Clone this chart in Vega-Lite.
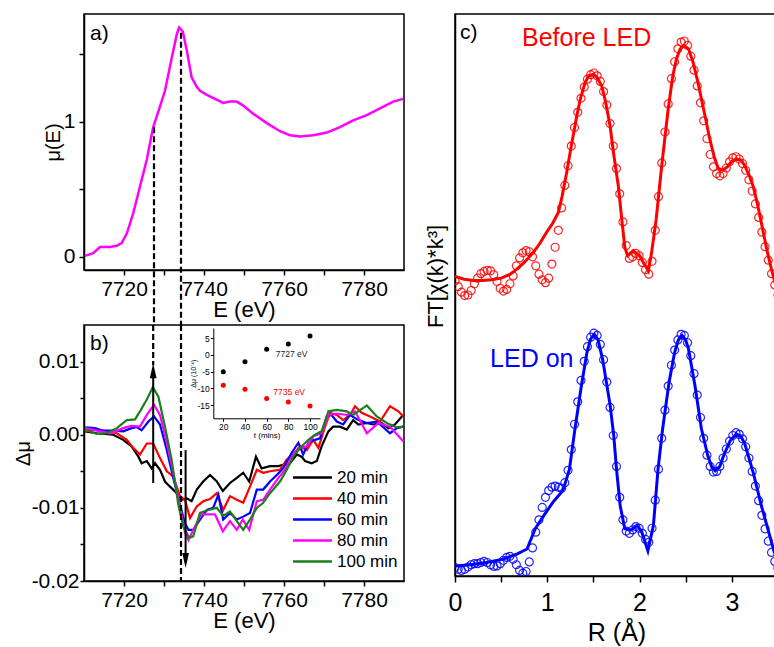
{
 "$schema": "https://vega.github.io/schema/vega-lite/v6.json",
 "background": "white",
 "padding": {"left": 12, "top": 13, "right": 0, "bottom": 0},
 "config": {
  "font": "Liberation Sans",
  "view": {"stroke": "#000", "strokeWidth": 1.5},
  "axis": {"grid": false, "domainColor": "#000", "domainWidth": 1.5, "tickColor": "#000", "tickWidth": 1.5, "labelColor": "#000", "titleColor": "#000", "titleFontWeight": "normal", "labelFont": "Liberation Sans", "titleFont": "Liberation Sans", "labelFlush": false},
  "legend": {"labelFont": "Liberation Sans"}
 },
 "datasets": {
  "xanes": [
   {"E":7710.25,"mu":0.005},{"E":7712.3,"mu":0.025},{"E":7714.0,"mu":0.07},{"E":7716.5,"mu":0.07},{"E":7718.2,"mu":0.08},{"E":7719.4,"mu":0.10},{"E":7720.7,"mu":0.17},{"E":7722.3,"mu":0.32},{"E":7724.0,"mu":0.52},{"E":7725.7,"mu":0.72},{"E":7727.3,"mu":0.96},{"E":7728.2,"mu":1.04},{"E":7730.25,"mu":1.23},{"E":7731.9,"mu":1.47},{"E":7733.2,"mu":1.65},{"E":7733.8,"mu":1.70},{"E":7734.7,"mu":1.67},{"E":7735.7,"mu":1.53},{"E":7736.9,"mu":1.33},{"E":7738.2,"mu":1.26},{"E":7739.0,"mu":1.23},{"E":7740.7,"mu":1.20},{"E":7742.75,"mu":1.17},{"E":7744.8,"mu":1.14},{"E":7746.5,"mu":1.15},{"E":7748.2,"mu":1.15},{"E":7749.8,"mu":1.12},{"E":7752.3,"mu":1.06},{"E":7755.7,"mu":0.99},{"E":7759.0,"mu":0.93},{"E":7761.5,"mu":0.90},{"E":7764.0,"mu":0.89},{"E":7767.3,"mu":0.90},{"E":7770.7,"mu":0.92},{"E":7774.0,"mu":0.96},{"E":7777.3,"mu":1.01},{"E":7780.7,"mu":1.05},{"E":7784.0,"mu":1.10},{"E":7787.3,"mu":1.15},{"E":7789.8,"mu":1.17}
  ],
  "dmu": [
   {"t":"20 min","E":7710.25,"d":0.00046},{"t":"20 min","E":7713.2,"d":0.0002},{"t":"20 min","E":7717.3,"d":0.0},{"t":"20 min","E":7719.8,"d":-0.0007},{"t":"20 min","E":7721.9,"d":-0.0016},{"t":"20 min","E":7723.6,"d":-0.003},{"t":"20 min","E":7724.4,"d":-0.0039},{"t":"20 min","E":7725.7,"d":-0.0036},{"t":"20 min","E":7726.9,"d":-0.0046},{"t":"20 min","E":7727.75,"d":-0.0039},{"t":"20 min","E":7729.0,"d":-0.0048},{"t":"20 min","E":7730.25,"d":-0.0064},{"t":"20 min","E":7731.5,"d":-0.0071},{"t":"20 min","E":7733.2,"d":-0.008},{"t":"20 min","E":7734.4,"d":-0.0089},{"t":"20 min","E":7735.7,"d":-0.0087},{"t":"20 min","E":7736.9,"d":-0.0091},{"t":"20 min","E":7738.2,"d":-0.0075},{"t":"20 min","E":7739.8,"d":-0.0064},{"t":"20 min","E":7741.5,"d":-0.0055},{"t":"20 min","E":7743.2,"d":-0.0064},{"t":"20 min","E":7744.7,"d":-0.0077},{"t":"20 min","E":7746.5,"d":-0.0066},{"t":"20 min","E":7748.2,"d":-0.0059},{"t":"20 min","E":7749.8,"d":-0.0052},{"t":"20 min","E":7751.3,"d":-0.0064},{"t":"20 min","E":7753.0,"d":-0.003},{"t":"20 min","E":7754.4,"d":-0.0046},{"t":"20 min","E":7756.5,"d":-0.0043},{"t":"20 min","E":7758.6,"d":-0.0043},{"t":"20 min","E":7759.8,"d":-0.0041},{"t":"20 min","E":7761.5,"d":-0.0039},{"t":"20 min","E":7763.2,"d":-0.0027},{"t":"20 min","E":7764.4,"d":-0.003},{"t":"20 min","E":7765.25,"d":-0.0036},{"t":"20 min","E":7766.9,"d":-0.0039},{"t":"20 min","E":7768.2,"d":-0.0036},{"t":"20 min","E":7769.4,"d":-0.0016},{"t":"20 min","E":7771.1,"d":0.00046},{"t":"20 min","E":7772.3,"d":0.0011},{"t":"20 min","E":7774.0,"d":0.0011},{"t":"20 min","E":7775.7,"d":0.0007},{"t":"20 min","E":7777.3,"d":0.002},{"t":"20 min","E":7778.6,"d":0.0014},{"t":"20 min","E":7780.7,"d":0.0016},{"t":"20 min","E":7782.3,"d":0.0014},{"t":"20 min","E":7784.4,"d":0.0016},{"t":"20 min","E":7786.1,"d":0.0009},{"t":"20 min","E":7787.75,"d":0.0014},{"t":"20 min","E":7789.8,"d":0.0027},
   {"t":"40 min","E":7710.25,"d":0.00046},{"t":"40 min","E":7713.2,"d":0.0007},{"t":"40 min","E":7715.7,"d":0.00046},{"t":"40 min","E":7718.2,"d":0.0002},{"t":"40 min","E":7720.7,"d":-0.0007},{"t":"40 min","E":7722.3,"d":-0.0018},{"t":"40 min","E":7724.0,"d":-0.0027},{"t":"40 min","E":7725.7,"d":-0.0012},{"t":"40 min","E":7727.3,"d":-0.0012},{"t":"40 min","E":7729.0,"d":-0.0032},{"t":"40 min","E":7730.7,"d":-0.005},{"t":"40 min","E":7732.3,"d":-0.0057},{"t":"40 min","E":7734.0,"d":-0.0084},{"t":"40 min","E":7735.25,"d":-0.0089},{"t":"40 min","E":7736.5,"d":-0.0114},{"t":"40 min","E":7738.2,"d":-0.0098},{"t":"40 min","E":7739.8,"d":-0.0091},{"t":"40 min","E":7741.5,"d":-0.0088},{"t":"40 min","E":7743.2,"d":-0.008},{"t":"40 min","E":7744.8,"d":-0.0103},{"t":"40 min","E":7746.5,"d":-0.0084},{"t":"40 min","E":7748.2,"d":-0.0089},{"t":"40 min","E":7749.8,"d":-0.0093},{"t":"40 min","E":7751.5,"d":-0.0071},{"t":"40 min","E":7753.2,"d":-0.0048},{"t":"40 min","E":7754.8,"d":-0.0052},{"t":"40 min","E":7756.5,"d":-0.005},{"t":"40 min","E":7759.0,"d":-0.0048},{"t":"40 min","E":7760.7,"d":-0.0034},{"t":"40 min","E":7762.3,"d":-0.0027},{"t":"40 min","E":7764.0,"d":-0.0016},{"t":"40 min","E":7765.7,"d":-0.0021},{"t":"40 min","E":7767.3,"d":-0.0007},{"t":"40 min","E":7768.6,"d":-0.0018},{"t":"40 min","E":7770.25,"d":0.0011},{"t":"40 min","E":7771.5,"d":0.003},{"t":"40 min","E":7773.2,"d":0.0027},{"t":"40 min","E":7774.8,"d":0.002},{"t":"40 min","E":7776.5,"d":0.0027},{"t":"40 min","E":7777.75,"d":0.0039},{"t":"40 min","E":7779.4,"d":0.003},{"t":"40 min","E":7781.5,"d":0.0025},{"t":"40 min","E":7784.0,"d":0.0018},{"t":"40 min","E":7786.5,"d":0.0039},{"t":"40 min","E":7788.6,"d":0.0032},{"t":"40 min","E":7789.8,"d":0.0025},
   {"t":"60 min","E":7710.25,"d":0.001},{"t":"60 min","E":7712.75,"d":0.0009},{"t":"60 min","E":7714.8,"d":0.00055},{"t":"60 min","E":7717.3,"d":0.00055},{"t":"60 min","E":7719.8,"d":0.00046},{"t":"60 min","E":7721.9,"d":0.0009},{"t":"60 min","E":7723.2,"d":0.00105},{"t":"60 min","E":7724.4,"d":0.0006},{"t":"60 min","E":7726.1,"d":0.0018},{"t":"60 min","E":7727.5,"d":0.0025},{"t":"60 min","E":7729.0,"d":0.0014},{"t":"60 min","E":7730.7,"d":-0.0021},{"t":"60 min","E":7732.3,"d":-0.0059},{"t":"60 min","E":7734.0,"d":-0.0096},{"t":"60 min","E":7735.25,"d":-0.0121},{"t":"60 min","E":7736.1,"d":-0.013},{"t":"60 min","E":7737.3,"d":-0.013},{"t":"60 min","E":7739.0,"d":-0.0116},{"t":"60 min","E":7740.7,"d":-0.0103},{"t":"60 min","E":7742.3,"d":-0.01},{"t":"60 min","E":7743.6,"d":-0.0082},{"t":"60 min","E":7744.8,"d":-0.0116},{"t":"60 min","E":7746.5,"d":-0.0107},{"t":"60 min","E":7748.2,"d":-0.0116},{"t":"60 min","E":7749.8,"d":-0.0112},{"t":"60 min","E":7751.5,"d":-0.0107},{"t":"60 min","E":7753.2,"d":-0.0075},{"t":"60 min","E":7754.8,"d":-0.0075},{"t":"60 min","E":7756.5,"d":-0.0064},{"t":"60 min","E":7758.2,"d":-0.0055},{"t":"60 min","E":7759.8,"d":-0.0046},{"t":"60 min","E":7761.9,"d":-0.0025},{"t":"60 min","E":7763.6,"d":-0.0011},{"t":"60 min","E":7764.8,"d":-0.0027},{"t":"60 min","E":7766.1,"d":-0.0011},{"t":"60 min","E":7767.75,"d":-0.0007},{"t":"60 min","E":7769.0,"d":-0.0005},{"t":"60 min","E":7770.7,"d":0.0025},{"t":"60 min","E":7771.9,"d":0.0027},{"t":"60 min","E":7773.2,"d":0.0018},{"t":"60 min","E":7774.8,"d":0.0014},{"t":"60 min","E":7776.5,"d":0.0027},{"t":"60 min","E":7778.6,"d":0.002},{"t":"60 min","E":7780.7,"d":0.0016},{"t":"60 min","E":7783.2,"d":0.0018},{"t":"60 min","E":7786.5,"d":0.0002},{"t":"60 min","E":7788.2,"d":0.0009},{"t":"60 min","E":7789.8,"d":0.0011},
   {"t":"80 min","E":7710.25,"d":0.0009},{"t":"80 min","E":7713.2,"d":0.00055},{"t":"80 min","E":7716.5,"d":0.0002},{"t":"80 min","E":7719.8,"d":0.0009},{"t":"80 min","E":7721.9,"d":0.0012},{"t":"80 min","E":7724.0,"d":0.0011},{"t":"80 min","E":7725.7,"d":0.0027},{"t":"80 min","E":7727.5,"d":0.0041},{"t":"80 min","E":7729.0,"d":0.0027},{"t":"80 min","E":7730.7,"d":-0.0011},{"t":"80 min","E":7732.3,"d":-0.0052},{"t":"80 min","E":7734.0,"d":-0.0098},{"t":"80 min","E":7735.25,"d":-0.0134},{"t":"80 min","E":7736.1,"d":-0.0144},{"t":"80 min","E":7737.75,"d":-0.0125},{"t":"80 min","E":7739.4,"d":-0.0109},{"t":"80 min","E":7741.1,"d":-0.0109},{"t":"80 min","E":7742.75,"d":-0.0109},{"t":"80 min","E":7744.7,"d":-0.0132},{"t":"80 min","E":7746.5,"d":-0.0118},{"t":"80 min","E":7748.2,"d":-0.013},{"t":"80 min","E":7749.7,"d":-0.0116},{"t":"80 min","E":7751.3,"d":-0.013},{"t":"80 min","E":7753.2,"d":-0.0091},{"t":"80 min","E":7754.8,"d":-0.0089},{"t":"80 min","E":7756.5,"d":-0.0075},{"t":"80 min","E":7758.6,"d":-0.0059},{"t":"80 min","E":7760.25,"d":-0.0048},{"t":"80 min","E":7762.3,"d":-0.0027},{"t":"80 min","E":7764.0,"d":-0.0018},{"t":"80 min","E":7765.7,"d":-0.0016},{"t":"80 min","E":7767.3,"d":-0.0002},{"t":"80 min","E":7769.4,"d":0.0002},{"t":"80 min","E":7771.1,"d":0.0027},{"t":"80 min","E":7773.2,"d":0.0029},{"t":"80 min","E":7775.7,"d":0.0027},{"t":"80 min","E":7777.75,"d":0.0032},{"t":"80 min","E":7780.7,"d":0.0002},{"t":"80 min","E":7783.6,"d":0.0016},{"t":"80 min","E":7786.5,"d":0.0011},{"t":"80 min","E":7789.8,"d":-0.0009},
   {"t":"100 min","E":7710.25,"d":0.0007},{"t":"100 min","E":7713.2,"d":0.0001},{"t":"100 min","E":7715.7,"d":0.0002},{"t":"100 min","E":7718.2,"d":0.0009},{"t":"100 min","E":7720.7,"d":0.002},{"t":"100 min","E":7722.75,"d":0.0021},{"t":"100 min","E":7724.0,"d":0.0032},{"t":"100 min","E":7725.7,"d":0.0048},{"t":"100 min","E":7727.2,"d":0.0065},{"t":"100 min","E":7728.6,"d":0.0052},{"t":"100 min","E":7730.25,"d":0.0011},{"t":"100 min","E":7731.9,"d":-0.0034},{"t":"100 min","E":7733.6,"d":-0.0096},{"t":"100 min","E":7734.8,"d":-0.0125},{"t":"100 min","E":7736.3,"d":-0.0141},{"t":"100 min","E":7737.3,"d":-0.0139},{"t":"100 min","E":7739.0,"d":-0.0107},{"t":"100 min","E":7741.1,"d":-0.0103},{"t":"100 min","E":7743.2,"d":-0.01},{"t":"100 min","E":7744.8,"d":-0.0111},{"t":"100 min","E":7746.5,"d":-0.0105},{"t":"100 min","E":7748.2,"d":-0.0118},{"t":"100 min","E":7749.8,"d":-0.013},{"t":"100 min","E":7751.5,"d":-0.0116},{"t":"100 min","E":7753.2,"d":-0.01},{"t":"100 min","E":7754.8,"d":-0.0093},{"t":"100 min","E":7756.5,"d":-0.008},{"t":"100 min","E":7759.0,"d":-0.0064},{"t":"100 min","E":7760.7,"d":-0.0048},{"t":"100 min","E":7762.3,"d":-0.003},{"t":"100 min","E":7764.4,"d":-0.0016},{"t":"100 min","E":7766.1,"d":-0.0007},{"t":"100 min","E":7767.75,"d":0.0},{"t":"100 min","E":7769.4,"d":0.00046},{"t":"100 min","E":7771.1,"d":0.0032},{"t":"100 min","E":7773.2,"d":0.0034},{"t":"100 min","E":7775.7,"d":0.0032},{"t":"100 min","E":7777.3,"d":0.0027},{"t":"100 min","E":7780.7,"d":0.004},{"t":"100 min","E":7783.2,"d":0.0025},{"t":"100 min","E":7785.7,"d":0.0016},{"t":"100 min","E":7788.2,"d":0.001},{"t":"100 min","E":7789.8,"d":0.0011}
  ],
  "inset": [
   {"s":"7727","t":20,"v":-5.0},{"s":"7727","t":40,"v":-2.0},{"s":"7727","t":60,"v":1.7},{"s":"7727","t":80,"v":3.3},{"s":"7727","t":100,"v":5.7},
   {"s":"7735","t":20,"v":-9.0},{"s":"7735","t":40,"v":-10.2},{"s":"7735","t":60,"v":-13.0},{"s":"7735","t":80,"v":-14.0},{"s":"7735","t":100,"v":-15.2}
  ],
  "ftfit": [
   {"s":"b","R":0.0,"v":5.33},{"s":"b","R":0.1,"v":5.28},{"s":"b","R":0.2,"v":5.26},{"s":"b","R":0.3,"v":5.26},{"s":"b","R":0.4,"v":5.27},{"s":"b","R":0.5,"v":5.3},{"s":"b","R":0.6,"v":5.37},{"s":"b","R":0.67,"v":5.46},{"s":"b","R":0.75,"v":5.58},{"s":"b","R":0.85,"v":5.76},{"s":"b","R":0.92,"v":5.92},{"s":"b","R":0.99,"v":6.11},{"s":"b","R":1.06,"v":6.28},{"s":"b","R":1.12,"v":6.47},{"s":"b","R":1.16,"v":6.75},{"s":"b","R":1.21,"v":7.18},{"s":"b","R":1.26,"v":7.65},{"s":"b","R":1.32,"v":8.19},{"s":"b","R":1.36,"v":8.5},{"s":"b","R":1.41,"v":8.78},{"s":"b","R":1.45,"v":8.9},{"s":"b","R":1.5,"v":8.93},{"s":"b","R":1.54,"v":8.87},{"s":"b","R":1.59,"v":8.72},{"s":"b","R":1.63,"v":8.45},{"s":"b","R":1.68,"v":8.01},{"s":"b","R":1.72,"v":7.5},{"s":"b","R":1.77,"v":6.94},{"s":"b","R":1.81,"v":6.3},{"s":"b","R":1.84,"v":5.85},{"s":"b","R":1.87,"v":5.7},{"s":"b","R":1.93,"v":5.79},{"s":"b","R":2.0,"v":5.7},{"s":"b","R":2.05,"v":5.55},{"s":"b","R":2.095,"v":5.43},{"s":"b","R":2.13,"v":5.75},{"s":"b","R":2.18,"v":6.35},{"s":"b","R":2.24,"v":7.3},{"s":"b","R":2.31,"v":8.31},{"s":"b","R":2.36,"v":8.9},{"s":"b","R":2.4,"v":9.2},{"s":"b","R":2.44,"v":9.38},{"s":"b","R":2.48,"v":9.44},{"s":"b","R":2.53,"v":9.38},{"s":"b","R":2.58,"v":9.14},{"s":"b","R":2.63,"v":8.8},{"s":"b","R":2.67,"v":8.49},{"s":"b","R":2.72,"v":8.1},{"s":"b","R":2.76,"v":7.78},{"s":"b","R":2.81,"v":7.45},{"s":"b","R":2.85,"v":7.26},{"s":"b","R":2.9,"v":7.22},{"s":"b","R":2.95,"v":7.28},{"s":"b","R":3.0,"v":7.38},{"s":"b","R":3.05,"v":7.42},{"s":"b","R":3.1,"v":7.4},{"s":"b","R":3.14,"v":7.3},{"s":"b","R":3.19,"v":7.12},{"s":"b","R":3.23,"v":6.94},{"s":"b","R":3.28,"v":6.6},{"s":"b","R":3.33,"v":6.2},{"s":"b","R":3.38,"v":5.8},{"s":"b","R":3.43,"v":5.45},{"s":"b","R":3.48,"v":5.15},
   {"s":"o","R":0.0,"v":0.18},{"s":"o","R":0.17,"v":0.2},{"s":"o","R":0.34,"v":0.24},{"s":"o","R":0.52,"v":0.3},{"s":"o","R":0.67,"v":0.39},{"s":"o","R":0.78,"v":0.48},{"s":"o","R":0.87,"v":0.84},{"s":"o","R":0.96,"v":1.07},{"s":"o","R":1.06,"v":1.31},{"s":"o","R":1.17,"v":1.52},{"s":"o","R":1.24,"v":1.9},{"s":"o","R":1.3,"v":2.62},{"s":"o","R":1.37,"v":3.39},{"s":"o","R":1.43,"v":3.98},{"s":"o","R":1.47,"v":4.22},{"s":"o","R":1.51,"v":4.3},{"s":"o","R":1.55,"v":4.2},{"s":"o","R":1.6,"v":3.85},{"s":"o","R":1.64,"v":3.45},{"s":"o","R":1.68,"v":3.05},{"s":"o","R":1.72,"v":2.5},{"s":"o","R":1.75,"v":1.9},{"s":"o","R":1.79,"v":1.25},{"s":"o","R":1.84,"v":0.84},{"s":"o","R":1.91,"v":0.82},{"s":"o","R":1.97,"v":0.9},{"s":"o","R":2.02,"v":0.8},{"s":"o","R":2.09,"v":0.45},{"s":"o","R":2.15,"v":0.9},{"s":"o","R":2.2,"v":1.9},{"s":"o","R":2.25,"v":2.62},{"s":"o","R":2.32,"v":3.45},{"s":"o","R":2.38,"v":3.98},{"s":"o","R":2.42,"v":4.2},{"s":"o","R":2.46,"v":4.28},{"s":"o","R":2.5,"v":4.2},{"s":"o","R":2.53,"v":4.04},{"s":"o","R":2.6,"v":3.39},{"s":"o","R":2.67,"v":2.62},{"s":"o","R":2.74,"v":2.14},{"s":"o","R":2.78,"v":1.95},{"s":"o","R":2.82,"v":1.87},{"s":"o","R":2.87,"v":1.95},{"s":"o","R":2.91,"v":2.14},{"s":"o","R":2.98,"v":2.4},{"s":"o","R":3.05,"v":2.53},{"s":"o","R":3.1,"v":2.48},{"s":"o","R":3.14,"v":2.35},{"s":"o","R":3.23,"v":1.85},{"s":"o","R":3.32,"v":1.25},{"s":"o","R":3.41,"v":0.72},{"s":"o","R":3.46,"v":0.42},{"s":"o","R":3.5,"v":0.25}
  ],
  "ftpts": [
   {"s":"b","R":0,"v":5.25},{"s":"b","R":0.035,"v":5.15},{"s":"b","R":0.07,"v":5.05},{"s":"b","R":0.105,"v":4.99},{"s":"b","R":0.14,"v":5.0},{"s":"b","R":0.175,"v":5.08},{"s":"b","R":0.21,"v":5.2},{"s":"b","R":0.245,"v":5.3},{"s":"b","R":0.28,"v":5.38},{"s":"b","R":0.315,"v":5.42},{"s":"b","R":0.35,"v":5.44},{"s":"b","R":0.385,"v":5.43},{"s":"b","R":0.42,"v":5.36},{"s":"b","R":0.455,"v":5.24},{"s":"b","R":0.49,"v":5.12},{"s":"b","R":0.525,"v":5.07},{"s":"b","R":0.56,"v":5.1},{"s":"b","R":0.595,"v":5.2},{"s":"b","R":0.63,"v":5.34},{"s":"b","R":0.665,"v":5.52},{"s":"b","R":0.7,"v":5.66},{"s":"b","R":0.735,"v":5.75},{"s":"b","R":0.77,"v":5.79},{"s":"b","R":0.805,"v":5.77},{"s":"b","R":0.84,"v":5.68},{"s":"b","R":0.875,"v":5.52},{"s":"b","R":0.91,"v":5.37},{"s":"b","R":0.945,"v":5.27},{"s":"b","R":0.98,"v":5.22},{"s":"b","R":1.015,"v":5.3},{"s":"b","R":1.05,"v":5.55},{"s":"b","R":1.085,"v":5.85},{"s":"b","R":1.12,"v":6.15},{"s":"b","R":1.155,"v":6.55},{"s":"b","R":1.19,"v":6.95},{"s":"b","R":1.225,"v":7.3},{"s":"b","R":1.26,"v":7.65},{"s":"b","R":1.295,"v":7.98},{"s":"b","R":1.33,"v":8.25},{"s":"b","R":1.365,"v":8.5},{"s":"b","R":1.4,"v":8.7},{"s":"b","R":1.435,"v":8.84},{"s":"b","R":1.47,"v":8.92},{"s":"b","R":1.505,"v":8.95},{"s":"b","R":1.54,"v":8.9},{"s":"b","R":1.575,"v":8.8},{"s":"b","R":1.61,"v":8.62},{"s":"b","R":1.645,"v":8.38},{"s":"b","R":1.68,"v":8.05},{"s":"b","R":1.715,"v":7.65},{"s":"b","R":1.75,"v":7.25},{"s":"b","R":1.785,"v":6.8},{"s":"b","R":1.82,"v":6.3},{"s":"b","R":1.855,"v":5.88},{"s":"b","R":1.89,"v":5.65},{"s":"b","R":1.925,"v":5.68},{"s":"b","R":1.96,"v":5.74},{"s":"b","R":1.995,"v":5.7},{"s":"b","R":2.03,"v":5.58},{"s":"b","R":2.065,"v":5.45},{"s":"b","R":2.1,"v":5.37},{"s":"b","R":2.135,"v":5.6},{"s":"b","R":2.17,"v":6.15},{"s":"b","R":2.205,"v":6.75},{"s":"b","R":2.24,"v":7.35},{"s":"b","R":2.275,"v":7.9},{"s":"b","R":2.31,"v":8.4},{"s":"b","R":2.345,"v":8.85},{"s":"b","R":2.38,"v":9.15},{"s":"b","R":2.415,"v":9.38},{"s":"b","R":2.45,"v":9.5},{"s":"b","R":2.485,"v":9.52},{"s":"b","R":2.52,"v":9.44},{"s":"b","R":2.555,"v":9.25},{"s":"b","R":2.59,"v":9.0},{"s":"b","R":2.625,"v":8.72},{"s":"b","R":2.66,"v":8.42},{"s":"b","R":2.695,"v":8.1},{"s":"b","R":2.73,"v":7.78},{"s":"b","R":2.765,"v":7.5},{"s":"b","R":2.8,"v":7.28},{"s":"b","R":2.835,"v":7.16},{"s":"b","R":2.87,"v":7.12},{"s":"b","R":2.905,"v":7.16},{"s":"b","R":2.94,"v":7.26},{"s":"b","R":2.975,"v":7.37},{"s":"b","R":3.01,"v":7.44},{"s":"b","R":3.045,"v":7.46},{"s":"b","R":3.08,"v":7.42},{"s":"b","R":3.115,"v":7.34},{"s":"b","R":3.15,"v":7.22},{"s":"b","R":3.185,"v":7.05},{"s":"b","R":3.22,"v":6.85},{"s":"b","R":3.255,"v":6.62},{"s":"b","R":3.29,"v":6.38},{"s":"b","R":3.325,"v":6.12},{"s":"b","R":3.36,"v":5.86},{"s":"b","R":3.395,"v":5.62},{"s":"b","R":3.43,"v":5.38},{"s":"b","R":3.465,"v":5.18},{"s":"b","R":3.5,"v":5.0},
   {"s":"o","R":0,"v":0.15},{"s":"o","R":0.035,"v":0.12},{"s":"o","R":0.07,"v":0.1},{"s":"o","R":0.105,"v":0.12},{"s":"o","R":0.14,"v":0.16},{"s":"o","R":0.175,"v":0.2},{"s":"o","R":0.21,"v":0.22},{"s":"o","R":0.245,"v":0.22},{"s":"o","R":0.28,"v":0.24},{"s":"o","R":0.315,"v":0.26},{"s":"o","R":0.35,"v":0.24},{"s":"o","R":0.385,"v":0.2},{"s":"o","R":0.42,"v":0.17},{"s":"o","R":0.455,"v":0.18},{"s":"o","R":0.49,"v":0.22},{"s":"o","R":0.525,"v":0.28},{"s":"o","R":0.56,"v":0.33},{"s":"o","R":0.595,"v":0.35},{"s":"o","R":0.63,"v":0.3},{"s":"o","R":0.665,"v":0.2},{"s":"o","R":0.7,"v":0.1},{"s":"o","R":0.735,"v":0.05},{"s":"o","R":0.77,"v":0.08},{"s":"o","R":0.805,"v":0.25},{"s":"o","R":0.84,"v":0.5},{"s":"o","R":0.875,"v":0.78},{"s":"o","R":0.91,"v":1.0},{"s":"o","R":0.945,"v":1.22},{"s":"o","R":0.98,"v":1.4},{"s":"o","R":1.015,"v":1.52},{"s":"o","R":1.05,"v":1.58},{"s":"o","R":1.085,"v":1.6},{"s":"o","R":1.12,"v":1.58},{"s":"o","R":1.155,"v":1.56},{"s":"o","R":1.19,"v":1.66},{"s":"o","R":1.225,"v":1.88},{"s":"o","R":1.26,"v":2.25},{"s":"o","R":1.295,"v":2.7},{"s":"o","R":1.33,"v":3.1},{"s":"o","R":1.365,"v":3.48},{"s":"o","R":1.4,"v":3.82},{"s":"o","R":1.435,"v":4.08},{"s":"o","R":1.47,"v":4.25},{"s":"o","R":1.505,"v":4.32},{"s":"o","R":1.54,"v":4.28},{"s":"o","R":1.575,"v":4.12},{"s":"o","R":1.61,"v":3.85},{"s":"o","R":1.645,"v":3.45},{"s":"o","R":1.68,"v":3.0},{"s":"o","R":1.715,"v":2.5},{"s":"o","R":1.75,"v":1.95},{"s":"o","R":1.785,"v":1.4},{"s":"o","R":1.82,"v":1.0},{"s":"o","R":1.855,"v":0.8},{"s":"o","R":1.89,"v":0.76},{"s":"o","R":1.925,"v":0.82},{"s":"o","R":1.96,"v":0.88},{"s":"o","R":1.995,"v":0.85},{"s":"o","R":2.03,"v":0.76},{"s":"o","R":2.065,"v":0.65},{"s":"o","R":2.1,"v":0.6},{"s":"o","R":2.135,"v":0.85},{"s":"o","R":2.17,"v":1.35},{"s":"o","R":2.205,"v":1.9},{"s":"o","R":2.24,"v":2.45},{"s":"o","R":2.275,"v":2.95},{"s":"o","R":2.31,"v":3.38},{"s":"o","R":2.345,"v":3.75},{"s":"o","R":2.38,"v":4.02},{"s":"o","R":2.415,"v":4.2},{"s":"o","R":2.45,"v":4.3},{"s":"o","R":2.485,"v":4.28},{"s":"o","R":2.52,"v":4.15},{"s":"o","R":2.555,"v":3.92},{"s":"o","R":2.59,"v":3.6},{"s":"o","R":2.625,"v":3.22},{"s":"o","R":2.66,"v":2.82},{"s":"o","R":2.695,"v":2.45},{"s":"o","R":2.73,"v":2.15},{"s":"o","R":2.765,"v":1.95},{"s":"o","R":2.8,"v":1.85},{"s":"o","R":2.835,"v":1.86},{"s":"o","R":2.87,"v":1.95},{"s":"o","R":2.905,"v":2.1},{"s":"o","R":2.94,"v":2.26},{"s":"o","R":2.975,"v":2.4},{"s":"o","R":3.01,"v":2.5},{"s":"o","R":3.045,"v":2.55},{"s":"o","R":3.08,"v":2.52},{"s":"o","R":3.115,"v":2.44},{"s":"o","R":3.15,"v":2.3},{"s":"o","R":3.185,"v":2.1},{"s":"o","R":3.22,"v":1.86},{"s":"o","R":3.255,"v":1.6},{"s":"o","R":3.29,"v":1.34},{"s":"o","R":3.325,"v":1.08},{"s":"o","R":3.36,"v":0.84},{"s":"o","R":3.395,"v":0.62},{"s":"o","R":3.43,"v":0.42},{"s":"o","R":3.465,"v":0.26},{"s":"o","R":3.5,"v":0.14}
  ]
 },
 "hconcat": [
  {
   "vconcat": [
    {
     "width": 320, "height": 256,
     "layer": [
      {
       "data": {"name": "xanes"},
       "mark": {"type": "line", "color": "#ff00ff", "strokeWidth": 2.5},
       "encoding": {
        "x": {"field": "E", "type": "quantitative", "scale": {"domain": [7710, 7790], "nice": false, "zero": false},
              "axis": {"values": [7720,7730,7740,7750,7760,7770,7780], "labelExpr": "datum.value % 20 == 0 ? format(datum.value, 'd') : ''", "title": "E (eV)", "labelFontSize": 21, "titleFontSize": 22, "tickSize": 5, "labelPadding": 3, "titlePadding": 0}},
        "y": {"field": "mu", "type": "quantitative", "scale": {"domain": [-0.1, 1.8], "nice": false, "zero": false},
              "axis": {"values": [0, 0.5, 1, 1.5], "labelExpr": "datum.value % 1 == 0 ? format(datum.value, 'd') : ''", "title": "μ(E)", "labelFontSize": 21, "titleFontSize": 20, "tickSize": 5, "labelPadding": 4, "titlePadding": 0}}
       }
      },
      {
       "data": {"values": [{"E": 7727.5, "y1": 0.96, "y2": -0.51}, {"E": 7734.25, "y1": 1.66, "y2": -0.51}]},
       "mark": {"type": "rule", "color": "#000", "strokeWidth": 2.2, "strokeDash": [6, 3], "clip": false},
       "encoding": {"x": {"field": "E", "type": "quantitative"}, "y": {"field": "y1", "type": "quantitative"}, "y2": {"field": "y2"}}
      },
      {
       "data": {"values": [{"lab": "a)", "E": 7711.5, "y": 1.605}]},
       "mark": {"type": "text", "align": "left", "baseline": "alphabetic", "fontSize": 21, "color": "#000"},
       "encoding": {"x": {"field": "E", "type": "quantitative"}, "y": {"field": "y", "type": "quantitative"}, "text": {"field": "lab"}}
      }
     ]
    },
    {
     "width": 320, "height": 256,
     "layer": [
      {
       "layer": [
        {
         "data": {"name": "dmu"},
         "mark": {"type": "line", "strokeWidth": 2.2},
         "encoding": {
          "x": {"field": "E", "type": "quantitative", "scale": {"domain": [7710, 7790], "nice": false, "zero": false},
                "axis": {"orient": "bottom", "values": [7720,7730,7740,7750,7760,7770,7780], "labelExpr": "datum.value % 20 == 0 ? format(datum.value, 'd') : ''", "title": "E (eV)", "labelFontSize": 21, "titleFontSize": 22, "tickSize": 5, "labelPadding": 3, "titlePadding": 0}},
          "y": {"field": "d", "type": "quantitative", "scale": {"domain": [-0.02, 0.015], "nice": false, "zero": false},
                "axis": {"orient": "left", "values": [-0.02, -0.015, -0.01, -0.005, 0, 0.005, 0.01], "labelExpr": "abs(datum.value * 200) % 2 < 0.5 ? replace(format(datum.value, '.2f'), '−', '-') : ''", "title": "Δμ", "labelFontSize": 21, "titleFontSize": 20, "tickSize": 4, "labelPadding": 1, "titlePadding": -2}},
          "color": {"field": "t", "type": "nominal", "sort": null,
                    "scale": {"domain": ["20 min", "40 min", "60 min", "80 min", "100 min"], "range": ["#000000", "#ff0000", "#0000ff", "#ff00ff", "#1b7f1b"]},
                    "legend": {"orient": "none", "legendX": 220, "legendY": 144, "title": null, "symbolType": "M-3,0L3,0", "symbolSize": 169, "symbolStrokeWidth": 2.5, "labelFontSize": 17, "labelColor": "#000", "rowPadding": 3, "labelOffset": 16, "padding": 0}}
         }
        },
        {
         "data": {"values": [{"E": 7727.3, "y1": 0.015, "y2": 0.0095}, {"E": 7734.25, "y1": 0.015, "y2": -0.02}]},
         "mark": {"type": "rule", "color": "#000", "strokeWidth": 2.2, "strokeDash": [6, 3]},
         "encoding": {"x": {"field": "E", "type": "quantitative"}, "y": {"field": "y1", "type": "quantitative"}, "y2": {"field": "y2"}}
        },
        {
         "data": {"values": [{"E": 7727.3, "y1": -0.0066, "y2": 0.008}, {"E": 7735.4, "y1": -0.0021, "y2": -0.0165}]},
         "mark": {"type": "rule", "color": "#000", "strokeWidth": 2},
         "encoding": {"x": {"field": "E", "type": "quantitative"}, "y": {"field": "y1", "type": "quantitative"}, "y2": {"field": "y2"}}
        },
        {
         "data": {"values": [{"E": 7727.3, "y": 0.00875}]},
         "mark": {"type": "point", "shape": "M0,-1L0.45,1L-0.45,1Z", "filled": true, "size": 225, "color": "#000", "opacity": 1},
         "encoding": {"x": {"field": "E", "type": "quantitative"}, "y": {"field": "y", "type": "quantitative"}}
        },
        {
         "data": {"values": [{"E": 7735.4, "y": -0.0172}]},
         "mark": {"type": "point", "shape": "M0,1L0.45,-1L-0.45,-1Z", "filled": true, "size": 225, "color": "#000", "opacity": 1},
         "encoding": {"x": {"field": "E", "type": "quantitative"}, "y": {"field": "y", "type": "quantitative"}}
        },
        {
         "data": {"values": [{"lab": "b)", "E": 7711.5, "y": 0.0116}]},
         "mark": {"type": "text", "align": "left", "baseline": "alphabetic", "fontSize": 21, "color": "#000"},
         "encoding": {"x": {"field": "E", "type": "quantitative"}, "y": {"field": "y", "type": "quantitative"}, "text": {"field": "lab"}}
        }
       ]
      },
      {
       "layer": [
        {
         "data": {"name": "inset"},
         "transform": [{"filter": "datum.s == '7727'"}],
         "mark": {"type": "circle", "size": 25, "color": "#000", "opacity": 1},
         "encoding": {
          "x": {"field": "t", "type": "quantitative", "scale": {"domain": [10.8, 109.2], "range": [129.3, 236], "nice": false, "zero": false},
                "axis": {"orient": "bottom", "offset": -162.7, "values": [20, 40, 60, 80, 100], "title": "t (mins)", "labelFontSize": 8.5, "titleFontSize": 8, "tickSize": 3, "tickWidth": 1, "domainWidth": 1, "labelPadding": 1, "titlePadding": 1}},
          "y": {"field": "v", "type": "quantitative", "scale": {"domain": [-18.9, 8.06], "range": [93.3, 3], "nice": false, "zero": false},
                "axis": {"orient": "left", "offset": -129.3, "values": [-15, -10, -5, 0, 5], "labelExpr": "replace(datum.label, '−', '-')", "title": "Δμ (10⁻⁴)", "labelFontSize": 8.5, "titleFontSize": 7, "tickSize": 3, "tickWidth": 1, "domainWidth": 1, "labelPadding": 1, "titlePadding": 1}}
         }
        },
        {
         "data": {"name": "inset"},
         "transform": [{"filter": "datum.s == '7735'"}],
         "mark": {"type": "circle", "size": 25, "color": "#ff0000", "opacity": 1},
         "encoding": {"x": {"field": "t", "type": "quantitative"}, "y": {"field": "v", "type": "quantitative"}}
        },
        {
         "data": {"values": [{"lab": "7727 eV", "t": 68.4, "v": -0.7}]},
         "mark": {"type": "text", "align": "left", "baseline": "alphabetic", "fontSize": 8.5, "color": "#222"},
         "encoding": {"x": {"field": "t", "type": "quantitative"}, "y": {"field": "v", "type": "quantitative"}, "text": {"field": "lab"}}
        },
        {
         "data": {"values": [{"lab": "7735 eV", "t": 66.2, "v": -11.9}]},
         "mark": {"type": "text", "align": "left", "baseline": "alphabetic", "fontSize": 8.5, "color": "#ff0000"},
         "encoding": {"x": {"field": "t", "type": "quantitative"}, "y": {"field": "v", "type": "quantitative"}, "text": {"field": "lab"}}
        }
       ]
      }
     ],
     "resolve": {"scale": {"x": "independent", "y": "independent"}, "axis": {"x": "independent", "y": "independent"}}
    }
   ],
   "spacing": 55,
   "bounds": "flush",
   "resolve": {"scale": {"color": "independent"}, "legend": {"color": "independent"}}
  },
  {
   "width": 323, "height": 562,
   "layer": [
    {
     "data": {"name": "ftpts"},
     "mark": {"type": "point", "filled": false, "size": 64, "strokeWidth": 1.2, "opacity": 0.85, "clip": true},
     "encoding": {
      "x": {"field": "R", "type": "quantitative", "scale": {"domain": [0, 3.5], "nice": false},
            "axis": {"values": [0, 0.5, 1, 1.5, 2, 2.5, 3, 3.5], "labelExpr": "datum.value % 1 == 0 ? format(datum.value, 'd') : ''", "title": "R (Å)", "labelFontSize": 25, "titleFontSize": 25, "tickSize": 6, "labelPadding": 8, "titlePadding": 5, "labelFlush": false}},
      "y": {"field": "v", "type": "quantitative", "scale": {"domain": [0, 10], "nice": false},
            "axis": {"labels": false, "ticks": false, "title": "FT[χ(k)*k³]", "titleFontSize": 22, "titlePadding": 8, "titleY": 262}},
      "color": {"field": "s", "type": "nominal", "scale": {"domain": ["b", "o"], "range": ["#ff0000", "#0000ff"]}, "legend": null}
     }
    },
    {
     "data": {"name": "ftfit"},
     "mark": {"type": "line", "strokeWidth": 3, "clip": true},
     "encoding": {
      "x": {"field": "R", "type": "quantitative"},
      "y": {"field": "v", "type": "quantitative"},
      "color": {"field": "s", "type": "nominal", "legend": null}
     }
    },
    {
     "data": {"values": [{"lab": "c)", "R": 0.054, "v": 9.56}]},
     "mark": {"type": "text", "align": "left", "baseline": "alphabetic", "fontSize": 21, "color": "#000"},
     "encoding": {"x": {"field": "R", "type": "quantitative"}, "y": {"field": "v", "type": "quantitative"}, "text": {"field": "lab"}}
    },
    {
     "data": {"values": [{"lab": "Before LED", "R": 0.726, "v": 9.43}]},
     "mark": {"type": "text", "align": "left", "baseline": "alphabetic", "fontSize": 25, "color": "#ff0000"},
     "encoding": {"x": {"field": "R", "type": "quantitative"}, "y": {"field": "v", "type": "quantitative"}, "text": {"field": "lab"}}
    },
    {
     "data": {"values": [{"lab": "LED on", "R": 0.38, "v": 3.72}]},
     "mark": {"type": "text", "align": "left", "baseline": "alphabetic", "fontSize": 25, "color": "#0000ff"},
     "encoding": {"x": {"field": "R", "type": "quantitative"}, "y": {"field": "v", "type": "quantitative"}, "text": {"field": "lab"}}
    }
   ]
  }
 ],
 "spacing": 14,
 "resolve": {"scale": {"color": "independent"}, "legend": {"color": "independent"}}
}
